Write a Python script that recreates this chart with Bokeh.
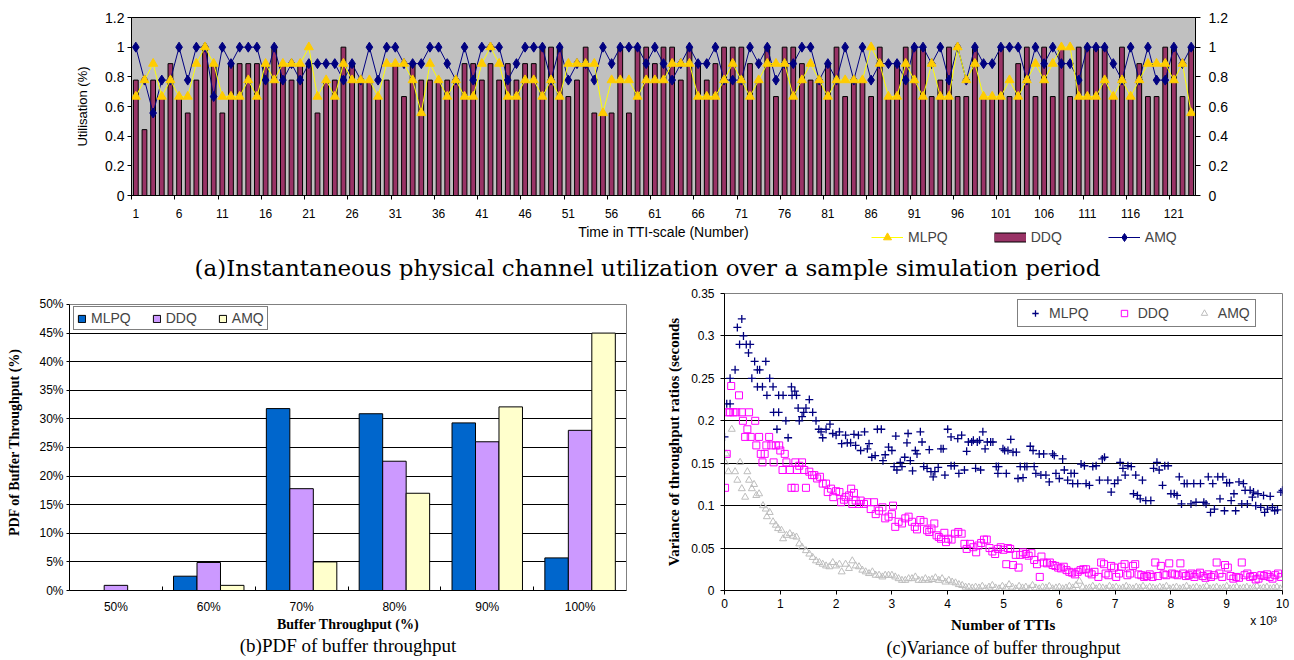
from bokeh.plotting import figure
from bokeh.models import Range1d, FixedTicker, LinearAxis, Legend, LegendItem, Title, Label, Grid
from bokeh.layouts import column, row
from bokeh.embed import file_html
from bokeh.resources import INLINE

SANS = "Liberation Sans"
SERIF = "Liberation Serif"

# ---------------- (a) utilisation per TTI ----------------
tti = list(range(1, 124))
ddq_util = [0.778,0.444,0.778,0.667,0.889,0.667,0.556,0.778,1.0,0.889,
            0.556,0.889,0.889,0.889,0.889,0.889,1.0,0.889,0.778,0.889,
            0.889,0.556,0.778,0.778,1.0,0.889,0.778,0.778,0.667,0.778,
            0.889,0.667,0.889,0.778,0.778,0.778,0.778,0.778,0.889,0.889,
            0.778,0.889,0.778,0.889,0.778,0.889,0.889,1.0,1.0,1.0,
            0.667,0.778,1.0,0.556,0.556,0.556,1.0,0.556,1.0,1.0,
            0.889,1.0,1.0,0.778,1.0,0.889,0.778,0.889,1.0,1.0,
            1.0,0.889,0.778,1.0,0.667,1.0,1.0,0.889,0.778,0.778,
            0.889,1.0,0.667,0.778,0.778,0.667,1.0,0.667,0.889,1.0,
            1.0,1.0,0.667,0.778,1.0,0.667,0.667,1.0,0.667,0.667,
            1.0,0.667,0.889,1.0,0.667,1.0,0.667,1.0,0.667,1.0,
            1.0,1.0,1.0,0.667,1.0,0.667,0.889,0.667,0.667,1.0,
            1.0,0.667,1.0]
mlpq_util = [0.667,0.778,0.889,0.667,0.778,0.667,0.667,0.889,1.0,0.889,
             0.667,0.667,0.667,0.778,0.667,0.889,0.778,0.889,0.889,0.889,
             1.0,0.667,0.778,0.667,0.889,0.778,0.778,0.778,0.667,0.889,
             0.889,0.889,0.778,0.556,0.889,0.778,0.667,0.778,0.667,0.667,
             0.889,1.0,0.889,0.667,0.667,0.778,0.778,0.667,0.778,0.667,
             0.889,0.889,0.889,0.889,0.556,0.778,0.778,0.778,0.667,0.778,
             0.778,0.778,0.889,0.889,0.889,0.667,0.667,0.667,0.778,0.889,
             0.778,0.667,0.778,0.889,0.889,0.889,0.667,0.778,0.889,0.778,
             0.667,0.778,0.778,0.778,0.778,1.0,0.889,0.667,0.667,0.889,
             0.778,0.667,0.889,0.667,0.667,1.0,0.778,0.889,0.667,0.667,
             0.667,0.778,0.667,0.778,0.889,0.778,0.889,1.0,1.0,0.667,
             0.667,0.667,0.778,0.667,0.778,0.667,0.778,0.889,0.889,0.889,
             0.778,0.889,0.556]
amq_util = [1.0,0.778,0.556,0.778,0.778,1.0,0.778,1.0,1.0,0.667,
            1.0,0.889,1.0,1.0,1.0,0.778,1.0,0.778,0.889,0.778,
            0.889,0.889,0.889,0.889,0.778,0.889,0.778,1.0,0.778,1.0,
            1.0,0.889,0.889,0.889,1.0,1.0,0.889,0.778,1.0,0.778,
            1.0,1.0,1.0,0.778,0.889,1.0,1.0,1.0,0.778,1.0,
            0.778,0.889,0.889,0.778,1.0,0.889,1.0,1.0,1.0,0.889,
            1.0,0.889,0.778,0.889,1.0,0.889,0.889,1.0,0.778,0.778,
            0.778,1.0,0.889,1.0,0.778,0.889,0.889,1.0,1.0,0.778,
            0.889,0.778,1.0,0.778,1.0,0.778,0.889,0.889,0.889,0.778,
            1.0,1.0,0.889,1.0,0.778,1.0,0.778,1.0,0.889,0.889,
            1.0,1.0,1.0,0.778,1.0,0.889,1.0,0.889,0.889,0.778,
            1.0,1.0,1.0,0.889,0.778,1.0,0.778,1.0,0.778,0.778,
            1.0,0.889,1.0]
util_ticks = [0, 0.2, 0.4, 0.6, 0.8, 1.0, 1.2]
util_tick_labels = ["0", "0.2", "0.4", "0.6", "0.8", "1", "1.2"]
tti_label_ticks = list(range(1, 124, 5))

# ---------------- (b) PDF of buffer throughput ----------------
pdf_cats = ["50%", "60%", "70%", "80%", "90%", "100%"]
pdf_mlpq = [0.0, 2.5, 31.8, 30.9, 29.3, 5.7]
pdf_ddq = [0.9, 4.9, 17.8, 22.6, 26.0, 28.0]
pdf_amq = [0.0, 0.9, 5.0, 17.0, 32.1, 45.0]
pdf_ticks = [0, 5, 10, 15, 20, 25, 30, 35, 40, 45, 50]

# ---------------- (c) variance of buffer throughput ----------------
var_mlpq_x = [0.00,0.04,0.10,0.10,0.19,0.23,0.27,0.31,0.34,0.39,0.43,0.46,0.49,0.54,0.59,0.59,0.63,0.68,0.74,0.76,
              0.81,0.87,0.88,0.94,0.97,0.97,1.05,1.10,1.14,1.20,1.21,1.26,1.29,1.32,1.34,1.39,1.42,1.46,1.52,1.58,
              1.64,1.69,1.73,1.76,1.82,1.89,1.94,2.00,2.06,2.10,2.17,2.20,2.26,2.32,2.35,2.40,2.44,2.51,2.56,2.59,
              2.64,2.70,2.74,2.81,2.84,2.88,2.94,3.00,3.04,3.07,3.09,3.15,3.18,3.23,3.27,3.29,3.33,3.37,3.42,3.45,
              3.51,3.54,3.57,3.63,3.67,3.70,3.74,3.77,3.83,3.88,3.92,3.95,4.00,4.06,4.06,4.12,4.18,4.20,4.25,4.30,
              4.34,4.37,4.43,4.46,4.50,4.53,4.57,4.59,4.63,4.67,4.71,4.77,4.81,4.87,4.90,4.91,4.99,5.02,5.05,5.08,
              5.13,5.17,5.23,5.26,5.30,5.35,5.38,5.42,5.48,5.53,5.55,5.58,5.64,5.67,5.72,5.76,5.82,5.88,5.91,5.94,
              6.00,6.06,6.09,6.15,6.21,6.24,6.27,6.33,6.39,6.45,6.48,6.54,6.60,6.66,6.72,6.77,6.81,6.87,6.93,6.99,
              7.05,7.09,7.14,7.18,7.23,7.29,7.33,7.37,7.40,7.45,7.49,7.55,7.64,7.69,7.75,7.79,7.85,7.89,7.95,8.00,
              8.06,8.11,8.15,8.19,8.24,8.29,8.36,8.41,8.45,8.53,8.59,8.63,8.67,8.71,8.75,8.78,8.84,8.88,8.93,8.96,
              9.00,9.05,9.08,9.13,9.16,9.22,9.27,9.30,9.33,9.37,9.42,9.46,9.48,9.52,9.56,9.61,9.66,9.68,9.73,9.78,
              9.82,9.86,9.91,9.97,10.0]
var_mlpq_y = [0.181,0.220,0.220,0.250,0.260,0.310,0.290,0.320,0.300,0.290,0.280,0.290,0.250,0.270,0.260,0.240,0.260,0.240,0.270,0.230,
              0.250,0.240,0.210,0.190,0.210,0.230,0.230,0.200,0.180,0.240,0.230,0.235,0.230,0.215,0.200,0.205,0.210,0.215,0.225,0.210,
              0.200,0.190,0.187,0.180,0.190,0.196,0.185,0.183,0.187,0.173,0.183,0.174,0.174,0.184,0.171,0.183,0.165,0.187,0.167,0.173,
              0.157,0.159,0.190,0.190,0.153,0.160,0.169,0.165,0.146,0.182,0.142,0.151,0.146,0.157,0.174,0.185,0.153,0.141,0.165,0.161,
              0.187,0.175,0.146,0.144,0.166,0.140,0.134,0.140,0.145,0.167,0.167,0.136,0.190,0.181,0.147,0.147,0.179,0.138,0.183,0.142,
              0.164,0.175,0.175,0.177,0.144,0.175,0.177,0.142,0.187,0.167,0.175,0.175,0.175,0.146,0.138,0.146,0.167,0.165,0.138,0.165,
              0.178,0.163,0.163,0.132,0.146,0.133,0.146,0.146,0.170,0.165,0.146,0.138,0.161,0.136,0.161,0.136,0.128,0.161,0.159,0.138,
              0.132,0.155,0.142,0.130,0.138,0.126,0.138,0.126,0.149,0.147,0.126,0.124,0.146,0.147,0.130,0.155,0.157,0.130,0.116,0.126,
              0.130,0.151,0.144,0.136,0.147,0.146,0.114,0.136,0.112,0.108,0.130,0.106,0.106,0.144,0.151,0.142,0.124,0.147,0.147,0.114,
              0.114,0.112,0.134,0.102,0.126,0.126,0.102,0.126,0.104,0.126,0.104,0.102,0.134,0.092,0.126,0.096,0.134,0.108,0.134,0.094,
              0.127,0.127,0.106,0.114,0.094,0.128,0.102,0.126,0.118,0.102,0.118,0.110,0.116,0.100,0.114,0.098,0.112,0.092,0.096,0.111,
              0.098,0.094,0.095,0.116,0.118]
var_ddq_x = [0.01,0.04,0.07,0.10,0.12,0.16,0.21,0.26,0.31,0.33,0.37,0.41,0.44,0.47,0.55,0.57,0.62,0.65,0.68,0.72,
             0.75,0.80,0.84,0.88,0.92,0.98,1.00,1.04,1.08,1.11,1.17,1.20,1.26,1.27,1.30,1.34,1.39,1.43,1.46,1.52,
             1.57,1.61,1.66,1.71,1.76,1.82,1.85,1.91,1.95,2.00,2.06,2.09,2.14,2.17,2.23,2.27,2.29,2.32,2.35,2.41,
             2.44,2.50,2.56,2.62,2.68,2.71,2.77,2.83,2.88,2.94,3.00,3.02,3.06,3.12,3.18,3.24,3.30,3.36,3.41,3.45,
             3.51,3.57,3.63,3.67,3.71,3.76,3.80,3.84,3.88,3.94,3.97,4.01,4.07,4.13,4.19,4.25,4.30,4.34,4.40,4.46,
             4.51,4.55,4.60,4.65,4.70,4.75,4.80,4.85,4.90,4.95,5.00,5.05,5.08,5.12,5.17,5.22,5.27,5.30,5.35,5.40,
             5.45,5.50,5.55,5.60,5.65,5.68,5.72,5.78,5.83,5.88,5.93,5.98,6.03,6.08,6.13,6.18,6.23,6.28,6.33,6.38,
             6.43,6.48,6.53,6.58,6.63,6.70,6.75,6.80,6.83,6.88,6.93,6.98,7.02,7.07,7.12,7.17,7.22,7.27,7.32,7.36,
             7.42,7.47,7.52,7.57,7.62,7.67,7.72,7.77,7.82,7.87,7.92,7.97,8.02,8.07,8.12,8.17,8.22,8.27,8.32,8.37,
             8.42,8.47,8.52,8.57,8.62,8.67,8.72,8.77,8.82,8.87,8.92,8.97,9.02,9.07,9.12,9.17,9.22,9.27,9.32,9.37,
             9.42,9.47,9.52,9.57,9.62,9.67,9.72,9.77,9.82,9.87,9.92,9.97]
var_ddq_y = [0.121,0.161,0.210,0.210,0.241,0.210,0.210,0.230,0.210,0.200,0.181,0.190,0.210,0.181,0.200,0.171,0.181,0.161,0.151,0.161,
             0.171,0.181,0.171,0.151,0.171,0.171,0.165,0.142,0.161,0.151,0.142,0.121,0.121,0.151,0.142,0.147,0.151,0.142,0.121,0.140,
             0.136,0.136,0.132,0.134,0.126,0.126,0.116,0.120,0.110,0.117,0.116,0.104,0.107,0.110,0.112,0.120,0.102,0.115,0.106,0.102,
             0.106,0.102,0.104,0.096,0.104,0.090,0.094,0.098,0.085,0.087,0.090,0.100,0.075,0.081,0.079,0.085,0.087,0.081,0.075,0.072,
             0.083,0.081,0.071,0.069,0.073,0.079,0.065,0.063,0.061,0.068,0.057,0.061,0.060,0.067,0.069,0.067,0.055,0.049,0.055,0.051,
             0.045,0.053,0.056,0.060,0.060,0.050,0.046,0.043,0.049,0.051,0.048,0.031,0.050,0.049,0.030,0.042,0.027,0.042,0.045,0.043,
             0.041,0.044,0.036,0.031,0.016,0.040,0.033,0.032,0.033,0.030,0.029,0.027,0.026,0.028,0.024,0.022,0.021,0.019,0.022,0.024,
             0.025,0.025,0.021,0.019,0.022,0.016,0.033,0.031,0.020,0.018,0.029,0.027,0.016,0.020,0.028,0.031,0.018,0.020,0.029,0.031,
             0.019,0.018,0.016,0.017,0.019,0.016,0.033,0.017,0.029,0.019,0.018,0.032,0.020,0.019,0.018,0.032,0.020,0.017,0.018,0.020,
             0.016,0.019,0.021,0.017,0.015,0.019,0.016,0.018,0.033,0.020,0.016,0.030,0.027,0.017,0.014,0.016,0.015,0.033,0.018,0.020,
             0.016,0.017,0.013,0.014,0.018,0.017,0.019,0.016,0.014,0.018,0.020,0.016]
var_amq_x = [0.01,0.03,0.07,0.13,0.19,0.23,0.28,0.31,0.37,0.41,0.44,0.49,0.53,0.57,0.62,0.69,0.74,0.76,0.81,0.87,
             0.92,0.96,1.02,1.05,1.11,1.17,1.23,1.29,1.34,1.39,1.46,1.52,1.58,1.64,1.70,1.76,1.82,1.88,1.94,2.00,
             2.06,2.10,2.17,2.23,2.29,2.35,2.41,2.47,2.53,2.59,2.65,2.71,2.77,2.83,2.88,2.94,3.00,3.06,3.12,3.18,
             3.24,3.30,3.36,3.42,3.48,3.54,3.60,3.66,3.72,3.78,3.84,3.90,3.96,4.02,4.08,4.14,4.20,4.26,4.32,4.38,
             4.44,4.50,4.56,4.62,4.68,4.74,4.80,4.86,4.92,4.98,5.04,5.10,5.16,5.22,5.28,5.34,5.40,5.46,5.52,5.58,
             5.64,5.70,5.76,5.82,5.88,5.94,6.00,6.06,6.12,6.18,6.24,6.30,6.36,6.42,6.48,6.54,6.60,6.66,6.72,6.78,
             6.84,6.90,6.96,7.02,7.08,7.14,7.20,7.26,7.32,7.38,7.44,7.50,7.56,7.62,7.68,7.74,7.80,7.86,7.92,7.98,
             8.04,8.10,8.16,8.22,8.28,8.34,8.40,8.46,8.52,8.58,8.64,8.70,8.76,8.82,8.88,8.94,9.00,9.06,9.12,9.18,
             9.24,9.30,9.36,9.42,9.48,9.54,9.60,9.66,9.72,9.78,9.84,9.90,9.96]
var_amq_y = [0.151,0.161,0.140,0.190,0.140,0.130,0.151,0.120,0.110,0.140,0.130,0.120,0.125,0.112,0.114,0.100,0.096,0.087,0.092,0.081,
             0.077,0.073,0.071,0.061,0.065,0.067,0.064,0.063,0.055,0.051,0.047,0.043,0.039,0.035,0.033,0.031,0.029,0.028,0.033,0.029,
             0.031,0.022,0.031,0.026,0.035,0.029,0.028,0.024,0.022,0.020,0.022,0.018,0.018,0.016,0.018,0.018,0.018,0.016,0.014,0.012,
             0.012,0.014,0.014,0.016,0.012,0.012,0.014,0.012,0.013,0.015,0.012,0.014,0.010,0.012,0.010,0.009,0.007,0.006,0.004,0.004,
             0.003,0.004,0.003,0.005,0.002,0.004,0.006,0.003,0.002,0.005,0.003,0.007,0.004,0.002,0.005,0.003,0.004,0.002,0.006,0.003,
             0.002,0.004,0.003,0.005,0.002,0.003,0.004,0.002,0.003,0.005,0.003,0.006,0.011,0.004,0.002,0.003,0.005,0.002,0.004,0.003,
             0.002,0.005,0.003,0.004,0.002,0.003,0.005,0.003,0.002,0.004,0.003,0.005,0.002,0.004,0.003,0.002,0.004,0.003,0.005,0.002,
             0.003,0.004,0.002,0.003,0.005,0.002,0.003,0.004,0.002,0.003,0.005,0.002,0.003,0.004,0.002,0.003,0.005,0.002,0.003,0.004,
             0.002,0.003,0.004,0.002,0.003,0.005,0.002,0.003,0.004,0.002,0.003,0.004,0.002]
var_ticks = [0, 0.05, 0.1, 0.15, 0.2, 0.25, 0.3, 0.35]
var_tick_labels = ["0", "0.05", "0.1", "0.15", "0.2", "0.25", "0.3", "0.35"]
tti_k_ticks = list(range(0, 11))
tti_k_exponent_tick = [9.66]


def style_axis(ax, size):
    ax.axis_line_color = "black"
    ax.major_tick_line_color = "black"
    ax.minor_tick_line_color = "black"
    ax.major_label_text_font = SANS
    ax.major_label_text_font_size = size
    ax.major_label_text_color = "black"
    ax.axis_label_text_font_style = "normal"
    ax.axis_label_text_color = "black"


def caption(text, size, offset, standoff):
    return Title(text=text, align="center", offset=offset, standoff=standoff,
                 text_font=SERIF, text_font_size=size, text_font_style="normal", text_color="black")


# ======================= top figure (a): chart =======================
FRAME_LEFT_A = 131
p1 = figure(width=1294, height=222, x_range=Range1d(0.5, 123.5), y_range=Range1d(0, 1.2),
            output_backend="svg", toolbar_location=None, title_location=None,
            min_border_left=FRAME_LEFT_A, min_border_right=99, min_border_top=17, min_border_bottom=27)
p1.background_fill_color = "#C0C0C0"
p1.outline_line_color = "black"
p1.grid.visible = False

p1.vbar(x=tti, top=ddq_util, width=0.55, fill_color="#993366", line_color="black", line_width=1)
p1.line(tti, amq_util, line_color="#000080", line_width=1)
p1.scatter(tti, amq_util, marker="diamond", size=10, fill_color="#000080", line_color="#000080")
p1.line(tti, mlpq_util, line_color="#FFFF00", line_width=1)
p1.scatter(tti, mlpq_util, marker="triangle", size=9, fill_color="#FFCC00", line_color="#FFCC00")

xa = p1.xaxis[0]
style_axis(xa, "12px")
xa.ticker = FixedTicker(ticks=tti_label_ticks, minor_ticks=[i + 0.5 for i in range(0, 124, 5)])
xa.major_tick_out = 0
xa.major_tick_in = 0
xa.minor_tick_out = 4
xa.minor_tick_in = 0
xa.major_label_standoff = 9

ya = p1.yaxis[0]
style_axis(ya, "14px")
ya.ticker = FixedTicker(ticks=util_ticks)
ya.major_label_overrides = {t: l for t, l in zip(util_ticks, util_tick_labels)}
ya.major_tick_out = 4
ya.major_tick_in = 0
ya.minor_tick_line_color = None
ya.major_label_standoff = 3
ya.axis_label = "Utilisation (%)"
ya.axis_label_text_font = SANS
ya.axis_label_text_font_size = "13px"
ya.axis_label_standoff = 12

ry = LinearAxis(ticker=FixedTicker(ticks=util_ticks))
style_axis(ry, "14px")
ry.major_label_overrides = {t: l for t, l in zip(util_ticks, util_tick_labels)}
ry.major_tick_out = 5
ry.major_tick_in = 0
ry.minor_tick_line_color = None
ry.major_label_standoff = 8
p1.add_layout(ry, "right")

# ============ top figure (a): strip with axis title, legend and caption ============
p1b = figure(width=1294, height=58, x_range=Range1d(0, 1294), y_range=Range1d(0, 58),
             output_backend="svg", toolbar_location=None, title_location=None,
             x_axis_location=None, y_axis_location=None, min_border=0)
p1b.outline_line_color = None
p1b.grid.visible = False
# legend keys (kept outside the visible strip; only their legend swatches show)
k_ml = p1b.line([-20, -10], [-20, -20], line_color="#FFFF00", line_width=1)
k_mm = p1b.scatter([-15], [-20], marker="triangle", size=9, fill_color="#FFCC00", line_color="#FFCC00")
k_de = p1b.line([-20, -10], [-20, -20], line_color="black", line_width=10)
k_df = p1b.line([-20, -10], [-20, -20], line_color="#993366", line_width=8)
k_al = p1b.line([-20, -10], [-20, -20], line_color="#000080", line_width=1)
k_am = p1b.scatter([-15], [-20], marker="diamond", size=10, fill_color="#000080", line_color="#000080")

# this strip's frame is aligned with the chart frame above (starts at x = 131)
p1b.add_layout(Label(x=663 - FRAME_LEFT_A, y=49, x_units="screen", y_units="screen",
                     text="Time in TTI-scale (Number)",
                     text_font=SANS, text_font_size="14px", text_color="black",
                     text_align="center", text_baseline="middle"))
leg1 = Legend(items=[LegendItem(label="MLPQ", renderers=[k_ml, k_mm]),
                     LegendItem(label="DDQ", renderers=[k_de, k_df]),
                     LegendItem(label="AMQ", renderers=[k_al, k_am])],
              orientation="horizontal", location=(871 - FRAME_LEFT_A, 33),
              background_fill_alpha=0, border_line_color=None, padding=0, margin=0,
              spacing=46, glyph_width=32, glyph_height=20, label_standoff=5,
              label_text_font=SANS, label_text_font_size="14px")
p1b.add_layout(leg1, "center")
p1b.add_layout(Label(x=647 - FRAME_LEFT_A, y=13, x_units="screen", y_units="screen",
                     text="(a)Instantaneous physical channel utilization over a sample simulation period",
                     text_font="DejaVu Serif", text_font_size="23px", text_color="black",
                     text_align="center", text_baseline="middle"))

# ======================= bottom-left (b) =======================
# frame shares its top/bottom with panel (c); 50 % sits 11 px below the frame top
p2 = figure(width=650, height=380, x_range=Range1d(0, 6), y_range=Range1d(0, 51.92),
            output_backend="svg", toolbar_location=None, title_location=None,
            min_border_left=69, min_border_right=24, min_border_top=13, min_border_bottom=70)
p2.outline_line_color = None
p2.xgrid.visible = False
p2.ygrid.ticker = FixedTicker(ticks=pdf_ticks[1:-1])
p2.ygrid.grid_line_color = "black"
p2.ygrid.grid_line_width = 1
p2.add_layout(Grid(dimension=1, ticker=FixedTicker(ticks=[pdf_ticks[-1]]), grid_line_color="#808080"))

bw = 0.253
cat_pos = [i + 0.5 for i in range(len(pdf_cats))]
r_m = p2.vbar(x=[c - bw for c in cat_pos], top=pdf_mlpq, width=bw, fill_color="#0066CC", line_color="black")
r_d = p2.vbar(x=cat_pos, top=pdf_ddq, width=bw, fill_color="#CC99FF", line_color="black")
r_a = p2.vbar(x=[c + bw for c in cat_pos], top=pdf_amq, width=bw, fill_color="#FFFFCC", line_color="black")

bx = p2.xaxis[0]
style_axis(bx, "12px")
bx.ticker = FixedTicker(ticks=cat_pos, minor_ticks=list(range(0, 7)))
bx.major_label_overrides = {c: l for c, l in zip(cat_pos, pdf_cats)}
bx.major_tick_out = 0
bx.major_tick_in = 0
bx.minor_tick_in = 4
bx.minor_tick_out = 0
bx.major_label_standoff = 9
bx.axis_label = "Buffer Throughput (%)"
bx.axis_label_text_font = SERIF
bx.axis_label_text_font_style = "bold"
bx.axis_label_text_font_size = "14px"
bx.axis_label_standoff = 0

by = p2.yaxis[0]
style_axis(by, "12px")
by.bounds = (0, 50)
by.ticker = FixedTicker(ticks=pdf_ticks)
by.major_label_overrides = {t: f"{t}%" for t in pdf_ticks}
by.major_tick_out = 3
by.major_tick_in = 0
by.minor_tick_line_color = None
by.major_label_standoff = 3
by.axis_label = "PDF of Buffer Throughput (%)"
by.axis_label_text_font = SERIF
by.axis_label_text_font_style = "bold"
by.axis_label_text_font_size = "14px"
by.axis_label_standoff = 14

rb = LinearAxis(ticker=FixedTicker(ticks=[]), bounds=(0, 50))
rb.axis_line_color = "#808080"
rb.major_tick_line_color = None
rb.minor_tick_line_color = None
rb.major_label_text_font_size = "0px"
p2.add_layout(rb, "right")

leg2 = Legend(items=[LegendItem(label="MLPQ", renderers=[r_m]),
                     LegendItem(label="DDQ", renderers=[r_d]),
                     LegendItem(label="AMQ", renderers=[r_a])],
              orientation="horizontal", location=(4, 260),
              background_fill_color="white", border_line_color="black", border_line_width=1,
              padding=3, margin=0, spacing=21, glyph_width=9, glyph_height=9, label_standoff=5,
              label_text_font=SANS, label_text_font_size="14px")
p2.add_layout(leg2, "center")
p2.add_layout(caption("(b)PDF of buffer throughput", "19px", -23, -4), "below")

# ======================= bottom-right (c) =======================
p3 = figure(width=644, height=380, x_range=Range1d(0, 10), y_range=Range1d(0, 0.35),
            output_backend="svg", toolbar_location=None, title_location=None,
            min_border_left=74, min_border_right=12, min_border_top=13, min_border_bottom=70)
p3.outline_line_color = "#808080"
p3.xgrid.visible = False
p3.ygrid.ticker = FixedTicker(ticks=var_ticks)
p3.ygrid.grid_line_color = "black"

s_a = p3.scatter(var_amq_x, var_amq_y, marker="triangle", size=7, fill_color=None,
                 line_color="#BDBDBD", line_width=1)
s_d = p3.scatter(var_ddq_x, var_ddq_y, marker="square", size=7, fill_color=None,
                 line_color="#FF00FF", line_width=1)
s_m = p3.scatter(var_mlpq_x, var_mlpq_y, marker="cross", size=8, line_color="#000080", line_width=1.3)

cx = p3.xaxis[0]
style_axis(cx, "12px")
cx.ticker = FixedTicker(ticks=tti_k_ticks)
cx.major_tick_out = 4
cx.major_tick_in = 0
cx.minor_tick_line_color = None
cx.major_label_standoff = 4

cx2 = LinearAxis(ticker=FixedTicker(ticks=tti_k_exponent_tick))
style_axis(cx2, "12px")
cx2.major_label_overrides = {tti_k_exponent_tick[0]: "x 10³"}
cx2.axis_line_color = None
cx2.major_tick_line_color = None
cx2.minor_tick_line_color = None
cx2.major_tick_out = 0
cx2.major_tick_in = 0
cx2.major_label_standoff = 3
cx2.axis_label = "Number of TTIs"
cx2.axis_label_text_font = SERIF
cx2.axis_label_text_font_style = "bold"
cx2.axis_label_text_font_size = "15px"
cx2.axis_label_standoff = -14
p3.add_layout(cx2, "below")

cy = p3.yaxis[0]
style_axis(cy, "12px")
cy.ticker = FixedTicker(ticks=var_ticks)
cy.major_label_overrides = {t: l for t, l in zip(var_ticks, var_tick_labels)}
cy.major_tick_out = 4
cy.major_tick_in = 0
cy.minor_tick_line_color = None
cy.major_label_standoff = 6
cy.axis_label = "Variance of throughput ratios (seconds"
cy.axis_label_text_font = SERIF
cy.axis_label_text_font_style = "bold"
cy.axis_label_text_font_size = "15px"
cy.axis_label_standoff = 6

leg3 = Legend(items=[LegendItem(label="MLPQ", renderers=[s_m]),
                     LegendItem(label="DDQ", renderers=[s_d]),
                     LegendItem(label="AMQ", renderers=[s_a])],
              orientation="horizontal", location=(293, 263),
              background_fill_color="white", border_line_color="black", border_line_width=1,
              padding=5, margin=0, spacing=23, glyph_width=24, glyph_height=16, label_standoff=2,
              label_text_font=SANS, label_text_font_size="14px")
p3.add_layout(leg3, "center")
p3.add_layout(caption("(c)Variance of buffer throughput", "18px", -18, 0), "below")

layout = column(p1, p1b, row(p2, p3))
open("out.html", "w").write(file_html(layout, INLINE))
